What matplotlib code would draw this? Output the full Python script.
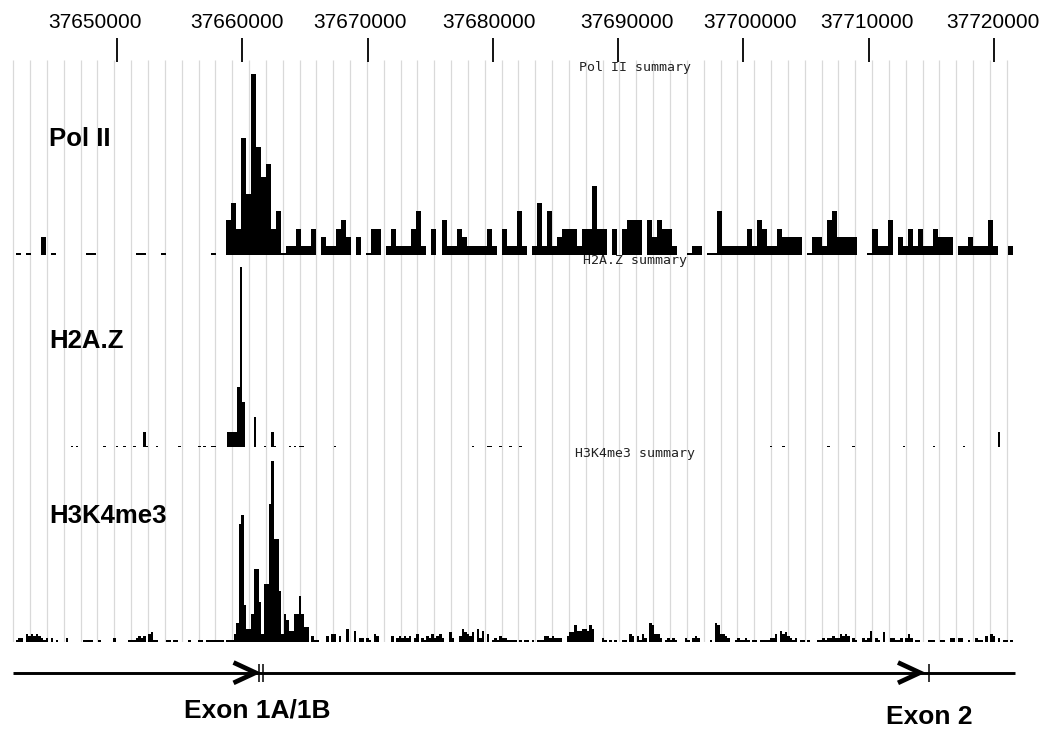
import numpy as np
import matplotlib
matplotlib.use("Agg")
import matplotlib.pyplot as plt
import matplotlib.transforms as mtransforms

plt.rcParams["font.family"] = ["Liberation Sans", "DejaVu Sans"]

# genomic window on screen (bp)
view = (37640660, 37723830)

tick_pos = [37650000, 37660000, 37670000, 37680000,
            37690000, 37700000, 37710000, 37720000]
tick_text = [str(t) for t in tick_pos]

# Pol II summary, 400 bp bins, None = no reads in bin
polii_start = 37641900
polii_bin = 400
polii = [0, None, 0, None, None, 2, None, 0, None, None,
         None, None, None, None, 0, 0, None, None, None, None,
         None, None, None, None, 0, 0, None, None, None, 0,
         None, None, None, None, None, None, None, None, None, 0,
         None, None, 4, 6, 3, 13.5, 7, 21, 12.5, 9,
         10.5, 3, 5, 0, 1, 1, 3, 1, 1, 3,
         None, 2, 1, 1, 3, 4, 2, None, 2, None,
         0, 3, 3, None, 1, 3, 1, 1, 1, 3,
         5, 1, None, 3, None, 4, 1, 1, 3, 2,
         1, 1, 1, 1, 3, 1, None, 3, 1, 1,
         5, 1, None, 1, 6, 1, 5, 1, 2, 3,
         3, 3, 1, 3, 3, 8, 3, 3, None, 3,
         None, 3, 4, 4, 4, None, 4, 2, 4, 3,
         3, 1, None, None, 0, 1, 1, None, 0, 0,
         5, 1, 1, 1, 1, 1, 3, 1, 4, 3,
         1, 1, 3, 2, 2, 2, 2, None, 0, 2,
         2, 1, 4, 5, 2, 2, 2, 2, None, None,
         0, 3, 1, 1, 4, None, 2, 1, 3, 1,
         3, 1, 1, 3, 2, 2, 2, None, 1, 1,
         2, 1, 1, 1, 4, 1, None, None, 1]

# H2A.Z summary, sparse 200 bp bins
h2az_bin = 200
h2az_pos = [37646300, 37646700, 37648900, 37649900, 37650500, 37651300,
            37652100, 37652300, 37653100, 37654900, 37656500, 37656900,
            37657500, 37657700, 37658800, 37659000, 37659200, 37659400,
            37659600, 37659800, 37660000, 37660900, 37661700, 37662300,
            37662500, 37663700, 37664100, 37664500, 37664700, 37667300,
            37678300, 37679500, 37679700, 37680500, 37681300, 37682100,
            37702100, 37703100, 37706700, 37708700, 37712700, 37715100,
            37717500, 37720300]
h2az_val = [0, 0, 0, 0, 0, 0,
            1, 0, 0, 0, 0, 0,
            0, 0, 1, 1, 1, 1,
            4, 12, 3, 2, 0, 1,
            0, 0, 0, 0, 0, 0,
            0, 0, 0, 0, 0, 0,
            0, 0, 0, 0, 0, 0,
            0, 1]

# H3K4me3 summary, 200 bp bins
h3_start = 37641900
h3_bin = 200
h3k4me3 = [0, 1, 1, None, 2, 1.5, 2, 1.5, 2, 1.5,
           1, 0, 1, None, 1, None, 0, None, None, None,
           1, None, None, None, None, None, None, 0.5, 0.5, 0,
           0, None, None, 0, None, None, None, None, None, 1,
           None, None, None, None, None, 0, 0, 0.5, 1, 1.5,
           1, 1.5, None, 2, 2.5, 0.5, 0, None, None, None,
           0.5, 0.5, None, 0, 0, None, None, None, None, 0,
           None, None, None, 0, 0, None, 0, 0.5, 0, 0.5,
           0.5, 0, 0.5, None, 0, 0, 0, 2, 5, 32.5,
           35, 10, 3.5, 3.5, 7.5, 20, 20, 11, 2, 16,
           16, 38, 50, 28.5, 28.5, 14, 2, 7.5, 6, 3,
           3, 7.5, 7.5, 12.5, 7.5, 4, 4, None, 1.5, 0,
           0, None, None, None, 1.5, None, 2, 2, None, 1.5,
           None, None, 3.5, None, None, 3, None, 1, 1, None,
           1, 0.5, None, 2, 1.5, None, None, None, None, None,
           1.5, None, 1, 1.5, 1, 1.5, 1, 1.5, None, 1,
           2, None, 1, 0.5, 1.5, 1, 2, 1, 1.5, 2,
           1, None, None, 2.5, 1, None, None, 1.5, 3.5, 2.5,
           2, 1.5, 2.5, None, 3.5, 1, 3, None, 2, None,
           0.5, 1, 0.5, 1.5, 1, 1, 0.5, 0.5, 0, 0,
           None, 0, None, 0, 0, None, 0, None, 0.5, 0.5,
           0.5, 1.5, 1.5, 1, 1.5, 1, 1, 1, None, None,
           1.5, 2.5, 2.5, 4.5, 3, 3, 3.5, 3.5, 3, 4.5,
           3.5, None, None, None, 1, 0.5, None, 0.5, None, 0,
           None, None, 0.5, 0.5, None, 2, 1.5, None, 1.5, 0.5,
           2, 1, None, 5, 4.5, 2, 2, 1, None, 0.5,
           1, 0.5, 1, 0.5, None, None, None, 1, 0.5, None,
           1, 1.5, 1, None, None, None, None, 0, None, 5,
           4.5, 2, 2, 1.5, 1, None, None, 0.5, 1, 0.5,
           0.5, 1, 0.5, None, 0.5, 0.5, None, 0, 0.5, 0,
           0.5, 1, 1, 2, None, 3, 2, 2.5, 1.5, 1,
           0.5, 1, None, 0.5, 0.5, None, 0, None, None, None,
           0, 0.5, 1, 0.5, 1, 1, 1.5, 1, 1, 2,
           1.5, 2, 1.5, None, 1, 0.5, None, None, 1, 0.5,
           1, 3, None, 1, 0.5, None, 2.5, None, None, 1,
           1, 0.5, 0.5, 1, None, 1, 2, 1, None, 0.5,
           0.5, None, None, None, 0.5, 0.5, 0.5, None, None, 0,
           0, None, None, 1, 1, None, 1, 1, None, None,
           0, None, None, 1, 0.5, 0.5, None, 1.5, None, 2,
           1.5, None, 1, None, 0, 0, None, 0]

# gene model
gene_span = (37641700, 37721670)
exon_pos = [37661370, 37661690, 37714800]
strand_tips = [37661050, 37714085]
exon_labels = ["Exon 1A/1B", "Exon 2"]

W, H = 1042, 729
fig = plt.figure(figsize=(W / 100, H / 100), dpi=100)


def band(top, bottom):
    # axes across the full width, between two pixel rows
    ax = fig.add_axes([0, 1 - bottom / H, 1, (bottom - top) / H])
    ax.set_xlim(view)
    ax.axis("off")
    ax.patch.set_alpha(0)
    return ax


# light vertical guides behind the tracks
ax_grid = band(59.5, 641.5)
ax_grid.set_ylim(0, 1)
guides = np.linspace(37641720, 37721020, 60)
ax_grid.vlines(guides, 0, 1, color="#d9d9d9", lw=0.9)

# coordinate ruler
ax_rule = band(0, 62)
ax_rule.set_ylim(62, 0)
ax_rule.vlines(tick_pos, 38, 62, color="black", lw=1.3)
label_shift = [-22, -5, -8, -4, 9, 7, -2, -1]
for t, s, dx in zip(tick_pos, tick_text, label_shift):
    tr = mtransforms.offset_copy(ax_rule.transData, fig=fig, x=dx, units="dots")
    ax_rule.text(t, 22.5, s, ha="center", va="center", fontsize=15, transform=tr)


def track(top, base, starts, values, width, ymax):
    ax = band(top, base)
    ax.set_ylim(0, ymax)
    v = np.array(values, dtype=float)
    x = np.asarray(starts, dtype=float)
    ok = ~np.isnan(v)
    floor = ymax * 1.3 / (base - top)  # zero reads still show as a dash
    ax.bar(x[ok], np.maximum(v[ok], floor), width=width, align="edge",
           color="black", linewidth=0, antialiased=False)
    return ax


polii_x = polii_start + polii_bin * np.arange(len(polii))
h3_x = h3_start + h3_bin * np.arange(len(h3k4me3))

track(60, 254.5, polii_x, polii, polii_bin, 22.6)
track(255, 447, h2az_pos, h2az_val, h2az_bin, 12.8)
track(448, 641.5, h3_x, h3k4me3, h3_bin, 53.6)

# track names and summary captions
names = ["Pol II", "H2A.Z", "H3K4me3"]
name_rows = [139, 341, 516]
caption_rows = [68, 260.5, 453.5]
for n, yn, yc in zip(names, name_rows, caption_rows):
    fig.text(49 / W, 1 - yn / H, n, fontsize=18.5, fontweight="bold",
             ha="left", va="center")
    fig.text(635 / W, 1 - yc / H, n + " summary", fontsize=9.5,
             family="DejaVu Sans Mono", color="#222222",
             ha="center", va="center")

# gene model with exons
ax_gene = band(645, H)
ax_gene.set_ylim(H, 645)
ax_gene.hlines(672.7, gene_span[0], gene_span[1], color="black", lw=2.1)
for tip in strand_tips:
    ax_gene.plot([tip - 1750, tip, tip - 1750], [662.5, 672.7, 682.9],
                 color="black", lw=3.4, solid_joinstyle="miter",
                 solid_capstyle="butt")
ax_gene.vlines(exon_pos, 664, 682, color="black", lw=1.1)
ax_gene.text(np.mean(exon_pos[:2]) - 300, 711, exon_labels[0], fontsize=19,
             fontweight="bold", ha="center", va="center")
ax_gene.text(exon_pos[2], 717, exon_labels[1], fontsize=19,
             fontweight="bold", ha="center", va="center")

fig.savefig("out.png", dpi=100)
